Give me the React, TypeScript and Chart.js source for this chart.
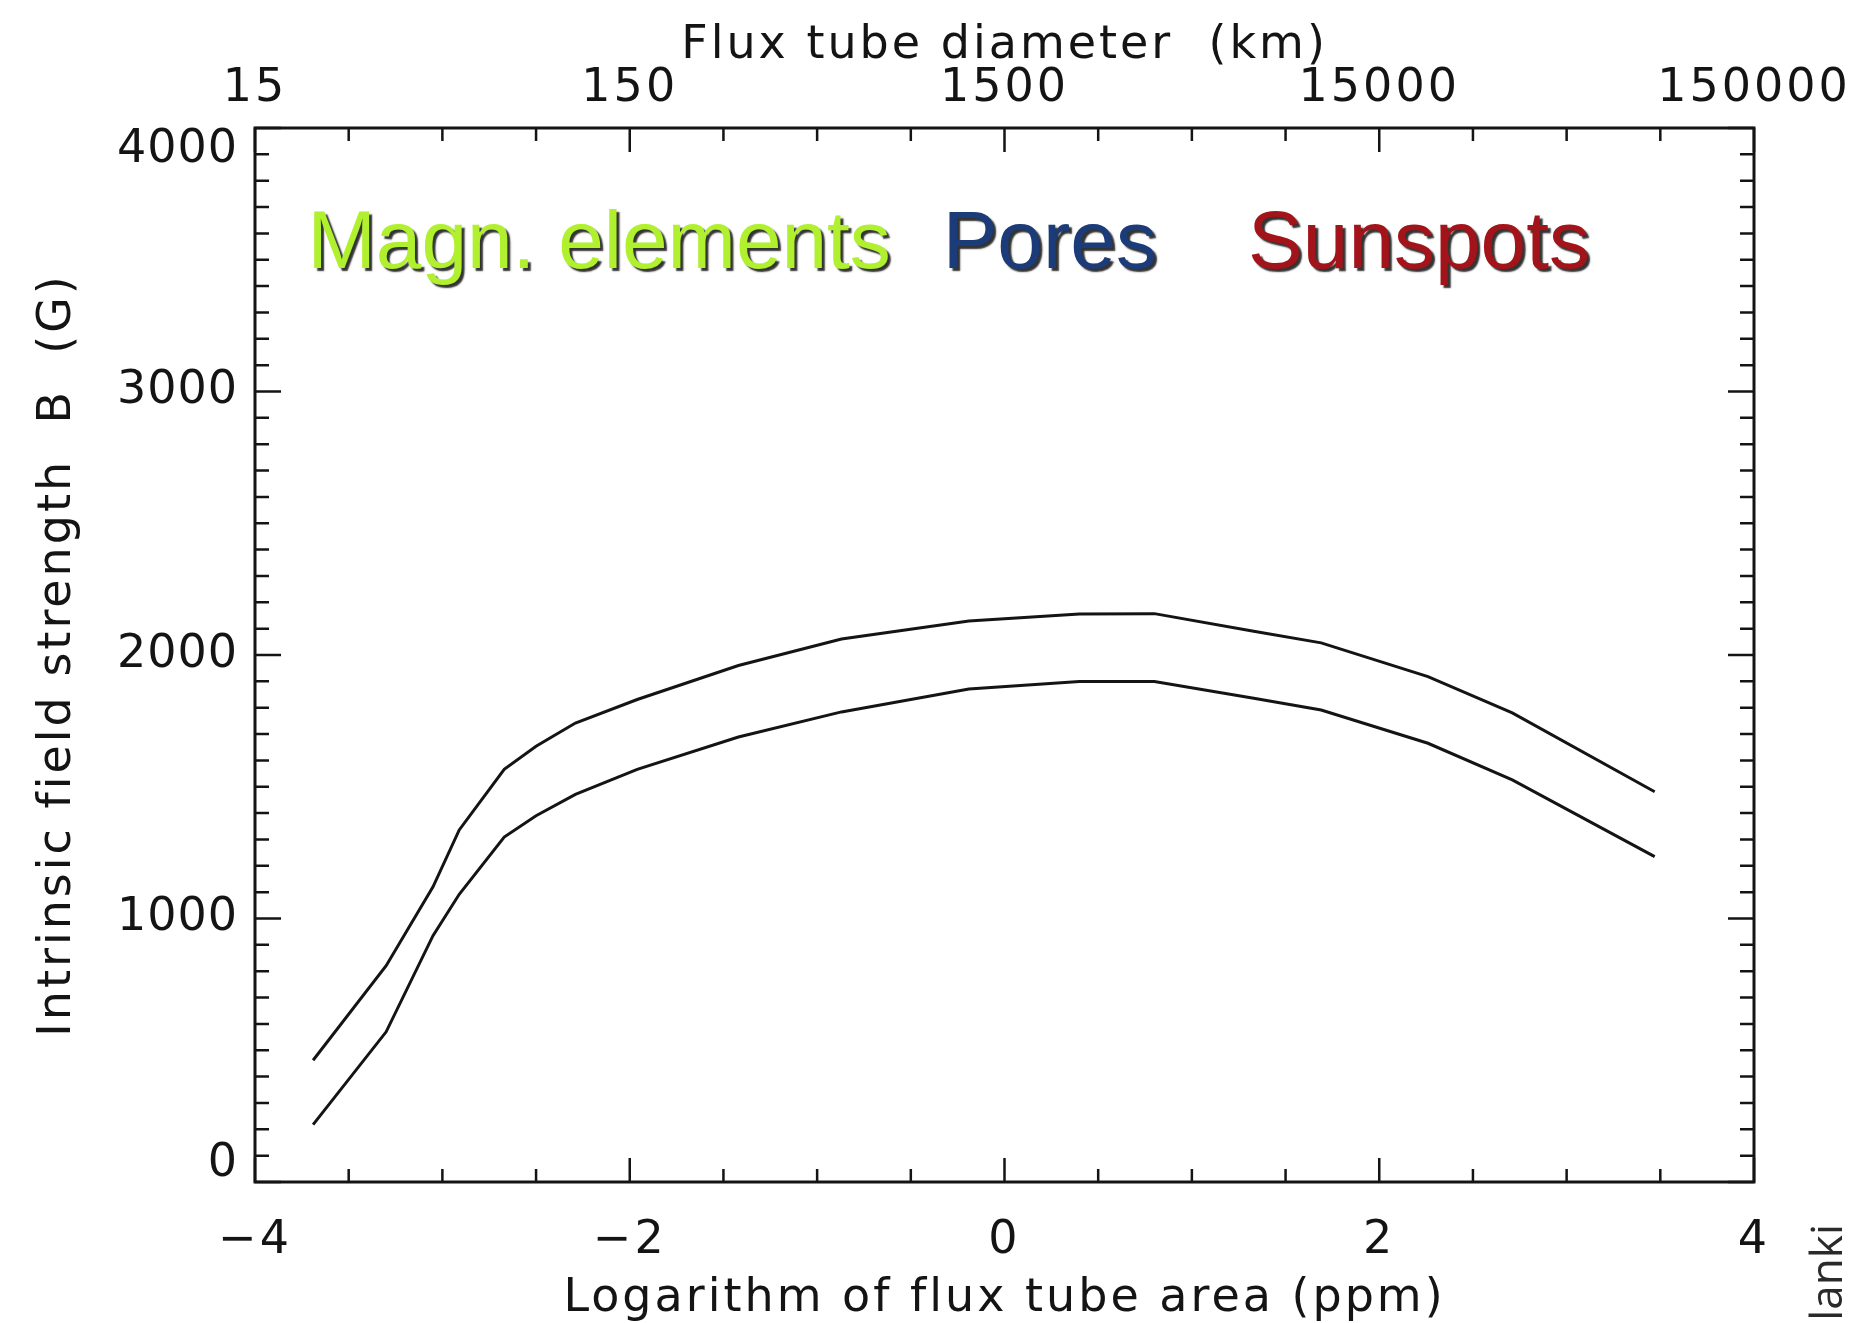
import React, { useEffect, useRef } from 'react';
import { Chart, registerables } from 'chart.js';

Chart.register(...registerables);

// ---- data ----
const logArea = [-3.69, -3.30, -3.05, -2.91, -2.67, -2.50, -2.29, -1.96, -1.42, -0.87, -0.19, 0.40, 0.80, 1.33, 1.69, 2.26, 2.71, 3.47];
const upperB = [462, 821, 1120, 1336, 1566, 1654, 1742, 1831, 1960, 2061, 2129, 2156, 2157, 2090, 2046, 1918, 1780, 1481];
const lowerB = [218, 570, 935, 1092, 1309, 1390, 1471, 1566, 1689, 1784, 1871, 1899, 1899, 1836, 1791, 1665, 1526, 1235];

const bottomTickValues = [-4, -2, 0, 2, 4];
const topTickLabels = ['15', '150', '1500', '15000', '150000'];
const yTickValues = [0, 1000, 2000, 3000, 4000];

const regionLabels = ['Magn. elements', 'Pores', 'Sunspots'];
const regionColors = ['#b0f02e', '#1b3c78', '#a3141a'];
const regionLogArea = [-3.72, -0.33, 1.30];
const regionLabelB = 3469;

const AXIS_FONT = { family: 'DejaVu Sans', size: 46, weight: 'normal' as const };
const INK = '#141414';

const idlFrame = {
  id: 'idlFrame',
  beforeDraw(chart: any) {
    (chart.ctx as any).letterSpacing = '3px';
  },
  afterDraw(chart: any) {
    const { ctx, chartArea: a, scales } = chart;
    const xs = scales.x;
    const ys = scales.y;
    ctx.save();
    (ctx as any).letterSpacing = '0px';
    ctx.strokeStyle = INK;
    ctx.lineWidth = 3;
    ctx.strokeRect(a.left, a.top, a.right - a.left, a.bottom - a.top);

    ctx.lineWidth = 2.5;
    ctx.beginPath();
    for (let k = 0; k <= 16; k++) {
      const px = xs.getPixelForValue(xs.min + k * 0.5);
      const len = k % 4 === 0 ? 24 : 13;
      ctx.moveTo(px, a.bottom);
      ctx.lineTo(px, a.bottom - len);
      ctx.moveTo(px, a.top);
      ctx.lineTo(px, a.top + len);
    }
    for (let k = 0; k <= 40; k++) {
      const py = ys.getPixelForValue(ys.min + k * 100);
      const len = k % 10 === 0 ? 26 : 14;
      ctx.moveTo(a.left, py);
      ctx.lineTo(a.left + len, py);
      ctx.moveTo(a.right, py);
      ctx.lineTo(a.right - len, py);
    }
    ctx.stroke();

    // y tick labels (IDL style: end labels kept inside the frame height)
    ctx.font = '46px "DejaVu Sans"';
    ctx.fillStyle = INK;
    ctx.textAlign = 'right';
    ctx.textBaseline = 'middle';
    (ctx as any).letterSpacing = '1px';
    yTickValues.forEach((v) => {
      let py = ys.getPixelForValue(v);
      py = Math.min(Math.max(py, a.top + 22), a.bottom - 18);
      ctx.fillText(String(v), a.left - 17, py);
    });

    // region labels with drop shadow
    (ctx as any).letterSpacing = '0px';
    ctx.font = '82px "Liberation Sans"';
    ctx.textAlign = 'left';
    ctx.textBaseline = 'alphabetic';
    ctx.shadowColor = 'rgba(15,15,15,0.85)';
    ctx.shadowOffsetX = 3;
    ctx.shadowOffsetY = 3;
    ctx.shadowBlur = 1.5;
    regionLabels.forEach((t, i) => {
      ctx.fillStyle = regionColors[i];
      ctx.fillText(t, xs.getPixelForValue(regionLogArea[i]), ys.getPixelForValue(regionLabelB));
    });
    ctx.restore();

    // credit text at right edge, rotated
    ctx.save();
    (ctx as any).letterSpacing = '0px';
    ctx.translate(1842, 1224);
    ctx.rotate(-Math.PI / 2);
    ctx.font = '44px "Open Sans"';
    ctx.fillStyle = '#2a2a2a';
    ctx.textAlign = 'right';
    ctx.textBaseline = 'alphabetic';
    ctx.fillText('Solanki', 0, 0);
    ctx.restore();
  },
};

export default function App() {
  const ref = useRef<HTMLCanvasElement | null>(null);
  useEffect(() => {
    if (!ref.current) return;
    const fmt = (v: number) => (v < 0 ? '\u2212' + Math.abs(v) : String(v));
    const chart = new Chart(ref.current, {
      type: 'line',
      data: {
        datasets: [
          {
            label: 'upper',
            data: logArea.map((x, i) => ({ x, y: upperB[i] })),
            borderColor: INK,
            borderWidth: 3,
            pointRadius: 0,
            tension: 0,
            xAxisID: 'x',
            yAxisID: 'y',
          },
          {
            label: 'lower',
            data: logArea.map((x, i) => ({ x, y: lowerB[i] })),
            borderColor: INK,
            borderWidth: 3,
            pointRadius: 0,
            tension: 0,
            xAxisID: 'x',
            yAxisID: 'y',
          },
        ],
      },
      options: {
        responsive: false,
        animation: false,
        devicePixelRatio: 1,
        layout: { padding: 0 },
        plugins: { legend: { display: false }, tooltip: { enabled: false } },
        scales: {
          x: {
            type: 'linear',
            position: 'bottom',
            min: -4,
            max: 4,
            afterBuildTicks: (s: any) => {
              s.ticks = bottomTickValues.map((v) => ({ value: v }));
            },
            ticks: {
              padding: 23,
              font: AXIS_FONT,
              color: INK,
              maxRotation: 0,
              callback: (v: any) => fmt(Number(v)),
            },
            grid: { display: false },
            border: { display: false },
            title: {
              display: true,
              text: 'Logarithm of flux tube area (ppm)',
              font: AXIS_FONT,
              color: INK,
              padding: { top: 0, bottom: -4 },
            },
            afterFit: (s: any) => {
              s.height = 141;
            },
          },
          x2: {
            type: 'linear',
            position: 'top',
            min: -4,
            max: 4,
            afterBuildTicks: (s: any) => {
              s.ticks = bottomTickValues.map((v) => ({ value: v }));
            },
            ticks: {
              padding: 3,
              font: AXIS_FONT,
              color: INK,
              maxRotation: 0,
              callback: (v: any) => {
                const i = bottomTickValues.indexOf(Number(v));
                return i >= 0 ? topTickLabels[i] : '';
              },
            },
            grid: { display: false },
            border: { display: false },
            title: {
              display: true,
              text: 'Flux tube diameter  (km)',
              font: AXIS_FONT,
              color: INK,
              padding: { top: 18, bottom: 0 },
            },
            afterFit: (s: any) => {
              s.height = 128;
            },
          },
          y: {
            type: 'linear',
            position: 'left',
            min: 0,
            max: 4000,
            ticks: { display: false, stepSize: 1000 },
            grid: { display: false },
            border: { display: false },
            title: {
              display: true,
              text: 'Intrinsic field strength  B  (G)',
              font: AXIS_FONT,
              color: INK,
              padding: { top: 30, bottom: 0 },
            },
            afterFit: (s: any) => {
              s.width = 255;
            },
          },
          y2: {
            type: 'linear',
            position: 'right',
            min: 0,
            max: 4000,
            ticks: { display: false },
            grid: { display: false },
            border: { display: false },
            afterFit: (s: any) => {
              s.width = 105;
            },
          },
        },
      } as any,
      plugins: [idlFrame],
    });
    return () => chart.destroy();
  }, []);

  return (
    <div style={{ position: 'absolute', left: 0, top: 0, width: 1859, height: 1323, background: '#fff' }}>
      <canvas ref={ref} width={1859} height={1323} style={{ display: 'block' }} />
    </div>
  );
}
